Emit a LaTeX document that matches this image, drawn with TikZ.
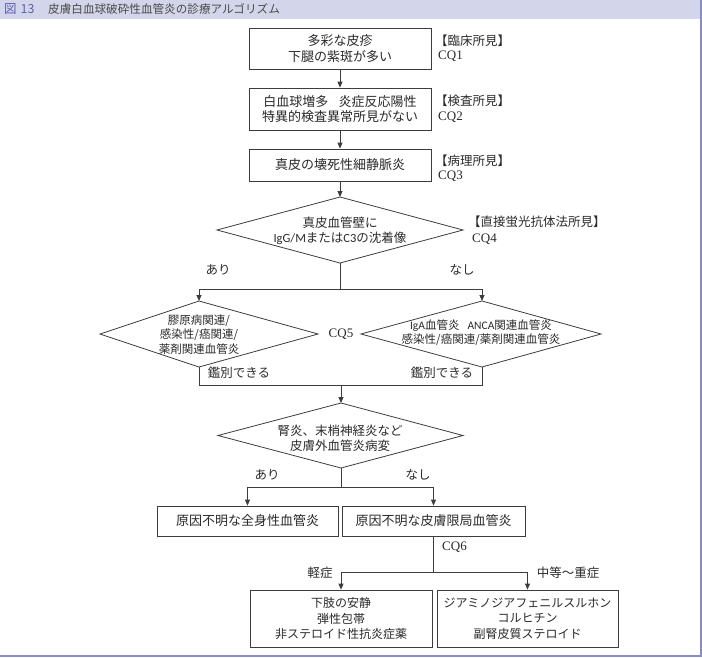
\documentclass[tikz,border=0pt]{standalone}
\usepackage{fontspec}
\setmainfont{Noto Sans CJK JP}
\newfontfamily\latf{Carlito}
\newfontfamily\cqf{Liberation Serif}
\usetikzlibrary{arrows.meta}
\definecolor{ln}{HTML}{3C3C3C}
\definecolor{txt}{HTML}{2A2A2A}
\definecolor{band}{HTML}{D3D6EA}
\definecolor{framec}{HTML}{8A8AC6}
\definecolor{figc}{HTML}{5B5FAE}
\begin{document}
\begin{tikzpicture}[x=1pt,y=-1pt,
  box/.style={draw=ln, line width=0.8pt, fill=white, text=txt, align=center, inner sep=0pt,
              font=\fontsize{13}{15.5}\selectfont},
  boxs/.style={box, font=\fontsize{12}{15.5}\selectfont},
  arr/.style={draw=ln, line width=0.8pt, -{Triangle[length=6pt,width=5pt]}},
  con/.style={draw=ln, line width=0.8pt},
  dtext/.style={text=txt, align=center, inner sep=0pt, font=\fontsize{12.5}{15}\selectfont},
  stext/.style={text=txt, align=center, inner sep=0pt, font=\fontsize{11.5}{14.5}\selectfont},
  lab/.style={text=txt, inner sep=0pt, font=\fontsize{12.5}{15}\selectfont},
  cq/.style={text=txt, inner sep=0pt, anchor=west, font=\cqf\fontsize{13}{15}\selectfont},
]
\useasboundingbox (0,0) rectangle (702,657);
% header band and frame
\fill[band] (0,0) rectangle (702,18.5);
\node[inner sep=0pt, anchor=west, font=\fontsize{12.5}{13}\selectfont, text=figc] (fignum) at (4,9) {図\hspace{4pt}13};
\node[inner sep=0pt, anchor=west, font=\fontsize{11.6}{13}\selectfont, text=txt!85!white] (title) at (48,9) {皮膚白血球破砕性血管炎の診療アルゴリズム};
\draw[framec, line width=1.5pt] (0,656) -- (701,656) -- (701,0);

% top boxes
\node[box, minimum width=182, minimum height=41] (b1) at (340,48.5) {多彩な皮疹\\下腿の紫斑が多い};
\node[box, minimum width=182, minimum height=42] (b2) at (340,109) {白血球増多\hspace{0.8em}炎症反応陽性\\特異的検査異常所見がない};
\node[box, minimum width=182, minimum height=32] (b3) at (340,165) {真皮の壊死性細静脈炎};

\node[lab, anchor=west] (l1) at (435,41) {【臨床所見】};
\node[cq] (cq1) at (438,56) {CQ1};
\node[lab, anchor=west] (l2) at (435,101) {【検査所見】};
\node[cq] (cq2) at (438,117) {CQ2};
\node[lab, anchor=west] (l3) at (435,161) {【病理所見】};
\node[cq] (cq3) at (438,176) {CQ3};

\draw[arr] (b1.south) -- (b2.north);
\draw[arr] (b2.south) -- (b3.north);

% diamond 1
\coordinate (d1t) at (340,197); \coordinate (d1r) at (463,230);
\coordinate (d1b) at (340,263); \coordinate (d1l) at (217,230);
\draw[con] (d1t) -- (d1r) -- (d1b) -- (d1l) -- cycle;
\node[dtext] (d1) at (340,230.5) {真皮血管壁に\\{\latf IgG/M}または{\latf C3}の沈着像};
\node[lab, anchor=west] (l4) at (468,222) {【直接蛍光抗体法所見】};
\node[cq] (cq4) at (472,239) {CQ4};
\draw[arr] (b3.south) -- (d1t);

% split 1
\coordinate (j1) at (340,289);
\coordinate (j1l) at (199,289); \coordinate (j1r) at (482,289);
\draw[con] (d1b) -- (j1);
\draw[con] (j1l) -- (j1r);
\node[lab] (ari1) at (218,270) {あり};
\node[lab] (nasi1) at (462,270) {なし};

% diamond 2 (left)
\coordinate (d2t) at (199,301); \coordinate (d2r) at (318,334);
\coordinate (d2b) at (199,367); \coordinate (d2l) at (100,334);
\draw[con] (d2t) -- (d2r) -- (d2b) -- (d2l) -- cycle;
\node[stext] (d2) at (199,334.5) {膠原病関連/\\感染性/癌関連/\\薬剤関連血管炎};
% diamond 3 (right)
\coordinate (d3t) at (482,301); \coordinate (d3r) at (601,334);
\coordinate (d3b) at (482,367); \coordinate (d3l) at (361,334);
\draw[con] (d3t) -- (d3r) -- (d3b) -- (d3l) -- cycle;
\node[stext] (d3) at (481,332.5) {{\latf IgA}血管炎\hspace{0.7em}{\latf ANCA}関連血管炎\\感染性/癌関連/薬剤関連血管炎};
\node[cq, anchor=center] (cq5) at (341,334) {CQ5};
\draw[arr] (j1l) -- (d2t);
\draw[arr] (j1r) -- (d3t);

% merge
\coordinate (m1l) at (199,385); \coordinate (m1r) at (482,385); \coordinate (m1) at (341,385);
\draw[con] (d2b) -- (m1l) -- (m1r) -- (d3b);
\node[lab] (kan1) at (239,373) {鑑別できる};
\node[lab] (kan2) at (442,373) {鑑別できる};

% diamond 4
\coordinate (d4t) at (341,403); \coordinate (d4r) at (463,435.5);
\coordinate (d4b) at (341,468); \coordinate (d4l) at (218,435.5);
\draw[con] (d4t) -- (d4r) -- (d4b) -- (d4l) -- cycle;
\node[dtext] (d4) at (340,438) {腎炎、末梢神経炎など\\皮膚外血管炎病変};
\draw[arr] (m1) -- (d4t);

% split 2
\coordinate (j2) at (341,487);
\coordinate (j2l) at (247.5,487); \coordinate (j2r) at (433.5,487);
\draw[con] (d4b) -- (j2);
\draw[con] (j2l) -- (j2r);
\node[lab] (ari2) at (267,475) {あり};
\node[lab] (nasi2) at (418,475) {なし};

\node[box, minimum width=181, minimum height=30] (bl) at (247.5,521) {原因不明な全身性血管炎};
\node[box, minimum width=183, minimum height=30] (br) at (433.5,521) {原因不明な皮膚限局血管炎};
\draw[arr] (j2l) -- (bl.north);
\draw[arr] (j2r) -- (br.north);

% split 3
\coordinate (j3) at (433.5,572);
\coordinate (j3l) at (341,572); \coordinate (j3r) at (527.5,572);
\draw[con] (br.south) -- (j3);
\draw[con] (j3l) -- (j3r);
\node[cq] (cq6) at (442,547) {CQ6};
\node[lab] (mild) at (320,573) {軽症};
\node[lab] (severe) at (568,573) {中等～重症};

\node[boxs, minimum width=182, minimum height=57] (tl) at (341,618.5) {下肢の安静\\弾性包帯\\非ステロイド性抗炎症薬};
\node[boxs, minimum width=181, minimum height=57] (tr) at (527.5,618.5) {ジアミノジアフェニルスルホン\\コルヒチン\\副腎皮質ステロイド};
\draw[arr] (j3l) -- (tl.north);
\draw[arr] (j3r) -- (tr.north);
\end{tikzpicture}
\end{document}
